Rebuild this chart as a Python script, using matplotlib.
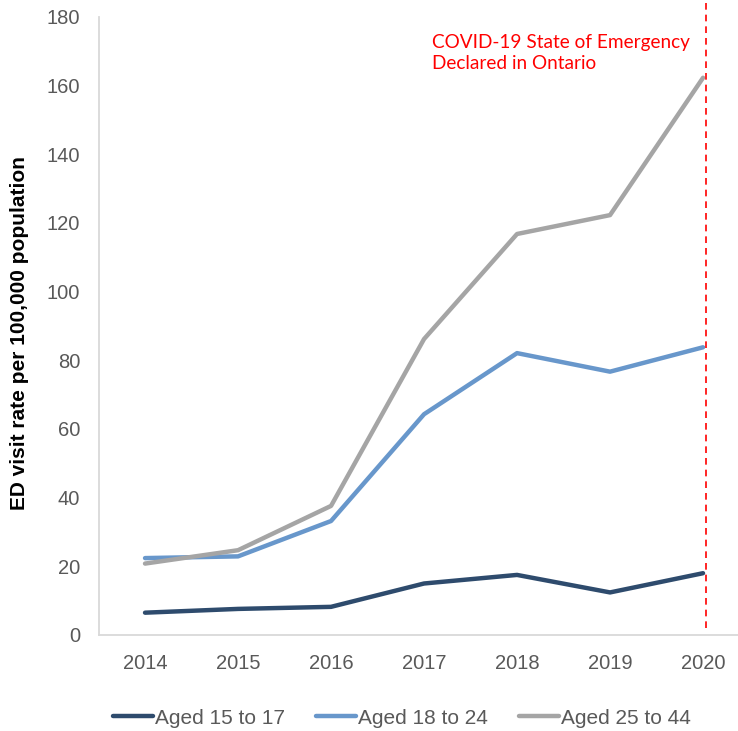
import matplotlib.pyplot as plt
import numpy as np

years = ["2014", "2015", "2016", "2017", "2018", "2019", "2020"]
aged_15_17 = [6.5, 7.6, 8.2, 15.0, 17.5, 12.4, 18.0]
aged_18_24 = [22.4, 22.9, 33.2, 64.3, 82.1, 76.7, 83.8]
aged_25_44 = [20.8, 24.7, 37.6, 86.2, 116.8, 122.3, 162.3]

series = [
    ("Aged 15 to 17", aged_15_17, "#2E4B6D"),
    ("Aged 18 to 24", aged_18_24, "#6897CB"),
    ("Aged 25 to 44", aged_25_44, "#A5A5A5"),
]

plt.rcParams['font.family'] = ['Liberation Sans', 'DejaVu Sans']

W, H = 738, 731
fig = plt.figure(figsize=(W / 100, H / 100), dpi=100)
ax = fig.add_axes([99 / W, 1 - 635 / H, 1 - 99 / W, (635 - 17) / H])

x = np.arange(len(years))
for label, vals, col in series:
    ax.plot(x, vals, color=col, lw=3.2, label=label, solid_capstyle='round')

ax.set_ylim(0, 180)
ax.set_yticks(np.arange(0, 181, 20))
ax.set_xlim(-0.495, 6.376)
ax.set_xticks(x)
ax.set_xticklabels(years)
ax.tick_params(length=0, labelsize=14.5, colors="#595959")
ax.tick_params(axis='x', pad=14)
ax.tick_params(axis='y', pad=13.5)
for s in ["top", "right"]:
    ax.spines[s].set_visible(False)
for s in ["left", "bottom"]:
    ax.spines[s].set_color("#D9D9D9")
    ax.spines[s].set_linewidth(1.3)

# state of emergency marker
ax.plot([6.03, 6.03], [2, 186], color="#FF0000", lw=1.2, ls=(0, (4, 3)), clip_on=False)
ax.text(432 / W, 1 - 69 / H, "COVID-19 State of Emergency\nDeclared in Ontario",
        transform=fig.transFigure, color="#FF0000", fontsize=13.7, family=['Lato', 'DejaVu Sans'],
        ha="left", va="baseline", linespacing=1.32)

fig.text(19.5 / W, 1 - 333 / H, "ED visit rate per 100,000 population", rotation=90,
         ha="center", va="center", fontsize=15, fontweight="bold", color="black")

leg = fig.legend(loc="center", bbox_to_anchor=(402 / W, 1 - 718 / H), ncol=3, frameon=False,
                 fontsize=15, handlelength=1.9, handletextpad=0.1, columnspacing=1.5)
for t in leg.get_texts():
    t.set_color("#595959")

fig.savefig("out.png", dpi=100)
